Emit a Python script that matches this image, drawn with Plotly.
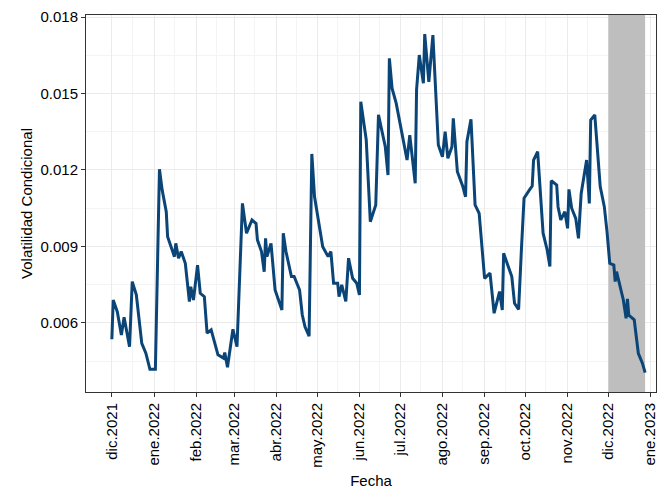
import pandas as pd
import plotly.graph_objects as go

# days since 2021-12-01 and conditional volatility
day_offsets = [
    0, 1, 4, 7, 9, 13, 15, 18, 22, 25, 28, 32, 35, 37, 40, 41, 46, 47, 49, 51,
    54, 57, 58, 60, 63, 65, 68, 70, 73, 76, 78, 82, 83, 85, 89, 92, 96, 99, 103, 106,
    107, 110, 112, 113, 114, 117, 120, 125, 126, 128, 132, 134, 138, 140, 142, 145, 147, 149, 153, 155,
    159, 161, 163, 166, 167, 169, 172, 174, 177, 180, 182, 183, 187, 190, 194, 196, 201, 203, 204, 206,
    209, 217, 219, 223, 224, 226, 229, 230, 233, 236, 240, 243, 245, 247, 250, 251, 254, 258, 260, 261,
    264, 267, 270, 274, 278, 281, 285, 287, 288, 294, 296, 299, 301, 303, 307, 309, 310, 313, 317, 320,
    322, 323, 327, 328, 330, 333, 335, 336, 338, 341, 343, 345, 349, 351, 352, 355, 359, 362, 364, 366,
    369, 370, 371, 376, 378, 379, 380, 384, 387, 390, 392,
]
volatility = [
    0.00536, 0.00690, 0.00644, 0.00553, 0.00622, 0.00507, 0.00762, 0.00710, 0.00520, 0.00481,
    0.00418, 0.00418, 0.01203, 0.01121, 0.01036, 0.00938, 0.00860, 0.00912, 0.00854, 0.00880,
    0.00834, 0.00684, 0.00742, 0.00690, 0.00827, 0.00716, 0.00703, 0.00560, 0.00573, 0.00520,
    0.00475, 0.00462, 0.00484, 0.00426, 0.00575, 0.00507, 0.01069, 0.00952, 0.01004, 0.00990,
    0.00926, 0.00880, 0.00801, 0.00932, 0.00860, 0.00912, 0.00729, 0.00651, 0.00952, 0.00880,
    0.00782, 0.00782, 0.00729, 0.00631, 0.00585, 0.00548, 0.01263, 0.01095, 0.00965, 0.00899,
    0.00860, 0.00880, 0.00756, 0.00756, 0.00703, 0.00749, 0.00684, 0.00854, 0.00775, 0.00756,
    0.00710, 0.01468, 0.01318, 0.00997, 0.01063, 0.01416, 0.01291, 0.01180, 0.01638, 0.01520,
    0.01462, 0.01239, 0.01337, 0.01148, 0.01514, 0.01651, 0.01540, 0.01733, 0.01546, 0.01729,
    0.01298, 0.01252, 0.01350, 0.01246, 0.01291, 0.01403, 0.01193, 0.01135, 0.01095, 0.01311,
    0.01399, 0.01063, 0.01030, 0.00775, 0.00795, 0.00638, 0.00723, 0.00651, 0.00873, 0.00782,
    0.00677, 0.00653, 0.00880, 0.01089, 0.01122, 0.01137, 0.01239, 0.01272, 0.00952, 0.00886,
    0.00821, 0.01158, 0.01141, 0.01056, 0.01004, 0.01036, 0.00971, 0.01124, 0.01050, 0.01010,
    0.00932, 0.01108, 0.01239, 0.01069, 0.01396, 0.01416, 0.01135, 0.01056, 0.00957, 0.00834,
    0.00827, 0.00762, 0.00801, 0.00690, 0.00618, 0.00694, 0.00631, 0.00612, 0.00481, 0.00442,
    0.00405,
]

tick_dates = pd.date_range("2021-12-01", "2023-01-01", freq="MS")
month_names = ["ene", "feb", "mar", "abr", "may", "jun", "jul", "ago", "sep", "oct", "nov", "dic"]
tick_labels = [f"{month_names[d.month - 1]}.{d.year}" for d in tick_dates]
y_ticks = [0.006, 0.009, 0.012, 0.015, 0.018]
y_range = [0.00329, 0.01808]
band_start = pd.Timestamp("2022-12-01")

dates = pd.Timestamp("2021-12-01") + pd.to_timedelta(day_offsets, unit="D")

fig = go.Figure()
# grey band for the last month, drawn as a filled trace so it covers the grid
fig.add_trace(go.Scatter(
    x=[band_start, dates[-1], dates[-1], band_start, band_start],
    y=[y_range[0], y_range[0], y_range[1], y_range[1], y_range[0]],
    fill="toself", fillcolor="#BEBEBE", mode="none",
    hoverinfo="skip", showlegend=False,
))
fig.add_trace(go.Scatter(
    x=dates, y=volatility, mode="lines",
    line=dict(color="#0B4577", width=3), showlegend=False,
))

grid = "#EBEBEB"
fig.update_xaxes(
    range=["2021-11-12", "2023-01-05"], automargin=False,
    tickvals=tick_dates, ticktext=tick_labels, tickangle=-90,
    ticks="outside", ticklen=4, tickcolor="#333",
    showgrid=True, gridcolor=grid, gridwidth=1.2,
    minor=dict(tickvals=list(tick_dates + pd.Timedelta(days=15)), showgrid=True,
               gridcolor="#F4F4F4", gridwidth=0.6),
    showline=True, linecolor="#333", mirror=True,
    title=dict(text="Fecha", standoff=8),
)
fig.update_yaxes(
    range=y_range, automargin=False,
    tickvals=y_ticks, ticktext=[f"{v:.3f}" for v in y_ticks],
    ticks="outside", ticklen=4, tickcolor="#333",
    showgrid=True, gridcolor=grid, gridwidth=1.2,
    minor=dict(tickvals=[0.0045, 0.0075, 0.0105, 0.0135, 0.0165], showgrid=True,
               gridcolor="#F4F4F4", gridwidth=0.6),
    showline=True, linecolor="#333", mirror=True, zeroline=False,
    title=dict(text="Volatilidad Condicional", standoff=4),
)
fig.update_layout(
    width=665, height=490,
    margin=dict(l=78, r=17, t=7, b=106),
    plot_bgcolor="white", paper_bgcolor="white",
    font=dict(family="Liberation Sans, Arial", size=15, color="#000"),
)
fig.update_xaxes(tickfont=dict(size=15, color="#000"), title_font=dict(size=15))
fig.update_yaxes(tickfont=dict(size=15, color="#000"), title_font=dict(size=15))

fig.write_html("out.html")
